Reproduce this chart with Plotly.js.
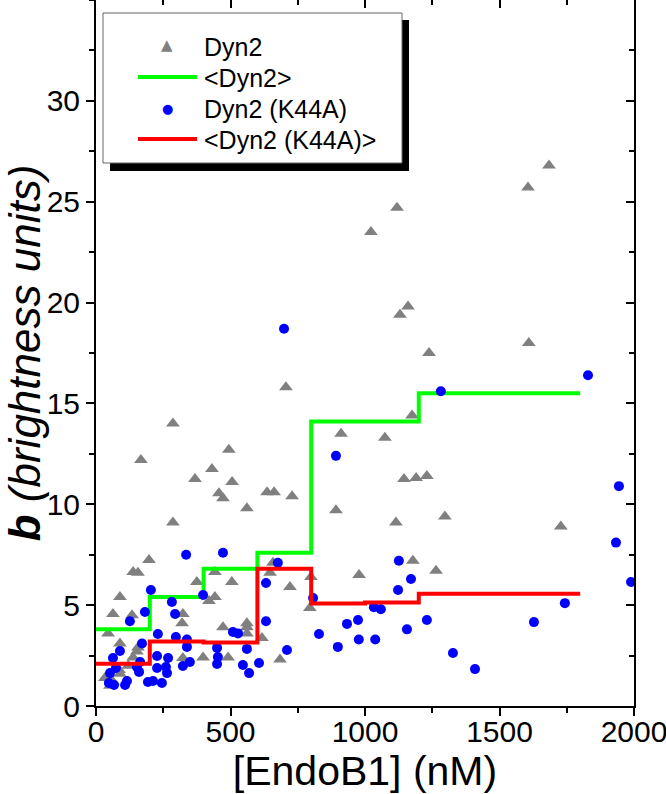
<!DOCTYPE html>
<html>
<head>
<meta charset="utf-8">
<script src="https://cdn.plot.ly/plotly-3.0.1.min.js"></script>
<style>html,body{margin:0;padding:0;background:#fff;}#chart{width:666px;height:794px;}</style>
</head>
<body>
<div id="chart"></div>
<script>
// ---- Data ----
const dyn2X = [1684,1606,1119,1022,1160,1130,1609,1238,706,1175,286,911,1074,494,167,431,368,1145,1190,1230,506,457,472,636,662,729,561,892,1297,286,1115,1728,197,1178,658,138,156,442,647,1264,978,799,375,505,721,89,442,420,795,63,134,323,320,45,472,561,561,561,617,338,89,156,152,138,398,491,684,323,89,45,33,86,63,52,120];
const dyn2Y = [26.8,25.7,24.7,23.5,19.8,19.4,18.0,17.5,15.8,14.4,14.0,13.5,13.3,12.7,12.2,11.75,11.25,11.25,11.3,11.4,11.1,10.55,10.3,10.6,10.6,10.4,9.8,9.7,9.4,9.1,9.1,8.9,7.24,7.2,7.1,6.64,6.6,6.64,6.6,6.7,6.5,6.4,6.15,6.15,5.9,5.4,5.4,5.2,4.86,4.56,4.5,4.56,4.1,3.6,3.9,4.1,3.9,3.6,3.37,3.27,3.1,2.9,2.7,2.4,2.4,2.4,2.3,2.38,1.6,1.45,1.39,1.79,1.2,1.0,2.0];

const k44aX = [1829,1282,699,892,1944,1933,1989,1126,1171,1123,807,1033,1059,1743,829,933,974,899,977,1038,1156,1230,1327,1409,1628,335,472,676,632,204,282,398,182,294,126,230,297,338,338,171,89,509,528,561,450,453,450,710,632,63,227,268,164,152,160,349,323,227,260,264,52,74,546,569,606,48,67,108,115,193,212,245];
const k44aY = [16.4,15.6,18.7,12.4,10.9,8.1,6.15,7.2,6.3,5.75,5.35,4.9,4.8,5.1,3.57,4.07,4.26,2.93,3.3,3.3,3.8,4.26,2.63,1.83,4.16,7.5,7.6,7.1,6.1,5.75,5.16,5.5,4.66,4.56,4.2,3.57,3.42,3.3,2.93,3.1,2.73,3.67,3.6,2.83,2.88,2.43,2.08,2.78,4.2,2.38,2.48,2.38,2.18,1.93,1.69,2.18,1.98,1.88,1.93,1.63,1.63,1.88,2.03,1.63,2.13,1.14,1.04,1.04,1.24,1.19,1.24,1.14];

const binEdges = [0,200,400,600,800,1000,1200,1800];
const dyn2Mean = [3.8,5.4,6.8,7.6,14.1,14.1,15.5];
const k44aMean = [2.1,3.2,3.15,6.8,5.08,5.13,5.57];

const legendLabels = ['Dyn2','<Dyn2>','Dyn2 (K44A)','<Dyn2 (K44A)>'];
const xTitle = '[EndoB1] (nM)';
const yTitle = '<b><i>b</i></b><i> (brightness units)</i>';
const yTickVals = [0,5,10,15,20,25,30];

// ---- Build ----
function stepY(m){ return m.concat([m[m.length-1]]); }

const traces = [
  {x:dyn2X, y:dyn2Y, mode:'markers', type:'scatter', name:legendLabels[0],
   marker:{symbol:'triangle-up', size:12, color:'#808080'}, showlegend:false},
  {x:binEdges, y:stepY(dyn2Mean), mode:'lines', type:'scatter', name:legendLabels[1],
   line:{shape:'hv', color:'#00ff00', width:4}, showlegend:false},
  {x:k44aX, y:k44aY, mode:'markers', type:'scatter', name:legendLabels[2],
   marker:{symbol:'circle', size:10, color:'#0000ff'}, showlegend:false},
  {x:binEdges, y:stepY(k44aMean), mode:'lines', type:'scatter', name:legendLabels[3],
   line:{shape:'hv', color:'#ff0000', width:4}, showlegend:false},
  {x:[], y:[], xaxis:'x2', yaxis:'y2', mode:'markers', showlegend:false, hoverinfo:'skip'}
];

// plot area in pixels
const PL=96, PR=634, PT=0, PB=706;
const px = v => (v-PL)/(PR-PL);
const py = v => (PB-v)/(PB-PT);

const tickFont = {family:'"Liberation Sans",Arial,sans-serif', size:30, color:'#000'};
const legFont = {family:'"Liberation Sans",Arial,sans-serif', size:25, color:'#000'};

const shapes = [
  {type:'rect', xref:'paper', yref:'paper', x0:px(110), x1:px(409), y0:py(171), y1:py(20),
   fillcolor:'#000', line:{width:0}, layer:'above'},
  {type:'rect', xref:'paper', yref:'paper', x0:px(103), x1:px(402), y0:py(163), y1:py(13),
   fillcolor:'#fff', line:{width:1, color:'#666'}, layer:'above'},
  {type:'line', xref:'paper', yref:'paper', x0:px(138), x1:px(197), y0:py(77), y1:py(77),
   line:{color:'#00ff00', width:4}, layer:'above'},
  {type:'line', xref:'paper', yref:'paper', x0:px(138), x1:px(197), y0:py(139), y1:py(139),
   line:{color:'#ff0000', width:4}, layer:'above'}
];
const rowsY = [46,77,108,139];
const annotations = legendLabels.map((t,i)=>({
  xref:'paper', yref:'paper', x:px(202), y:py(rowsY[i]+1), xanchor:'left', yanchor:'middle',
  text:t.replace(/</g,'&lt;').replace(/>/g,'&gt;'), showarrow:false, font:legFont
}));
annotations.push({xref:'paper', yref:'paper', x:px(167), y:py(45), xanchor:'center', yanchor:'middle',
  text:'▲', showarrow:false, font:{family:'"DejaVu Sans"', size:15, color:'#808080'}});
annotations.push({xref:'paper', yref:'paper', x:px(167), y:py(108), xanchor:'center', yanchor:'middle',
  text:'●', showarrow:false, font:{family:'"DejaVu Sans"', size:13, color:'#0000ff'}});

const axCommon = {showgrid:false, zeroline:false, linecolor:'#000', linewidth:2,
  ticks:'outside', ticklen:8, tickwidth:2, tickcolor:'#000', tickfont:tickFont};

const layout = {
  width:666, height:794,
  margin:{l:PL, r:666-PR, t:PT, b:794-PB},
  paper_bgcolor:'#fff', plot_bgcolor:'#fff',
  showlegend:false,
  xaxis:Object.assign({}, axCommon, {range:[0,2000], tick0:0, dtick:500, showline:true, mirror:true,
    ticklabelstandoff:-10, ticklabeloverflow:'allow',
    minor:{dtick:250, ticks:'outside', ticklen:5, tickwidth:2, tickcolor:'#000'},
    title:{text:xTitle, font:{family:'"Liberation Sans",Arial,sans-serif', size:41, color:'#000'}, standoff:0}}),
  yaxis:Object.assign({}, axCommon, {range:[0,35], tickmode:'array', tickvals:yTickVals, showline:true, mirror:true,
    minor:{dtick:2.5, ticks:'outside', ticklen:5, tickwidth:2, tickcolor:'#000'},
    title:{text:yTitle, font:{family:'"Liberation Sans",Arial,sans-serif', size:44, color:'#000'}, standoff:0}}),
  xaxis2:{overlaying:'x', side:'top', anchor:'y', range:[0,2000], tick0:0, dtick:500, showgrid:false, zeroline:false,
    showline:false, ticks:'inside', ticklen:8, tickwidth:2, tickcolor:'#000', showticklabels:false,
    minor:{dtick:250, ticks:'inside', ticklen:5, tickwidth:2, tickcolor:'#000'}},
  yaxis2:{overlaying:'y', side:'right', anchor:'x', range:[0,35], tick0:0, dtick:5, showgrid:false, zeroline:false,
    showline:false, ticks:'inside', ticklen:8, tickwidth:2, tickcolor:'#000', showticklabels:false,
    minor:{dtick:2.5, ticks:'inside', ticklen:5, tickwidth:2, tickcolor:'#000'}},
  shapes:shapes,
  annotations:annotations
};

Plotly.newPlot('chart', traces, layout, {staticPlot:true, displayModeBar:false});
</script>
</body>
</html>
